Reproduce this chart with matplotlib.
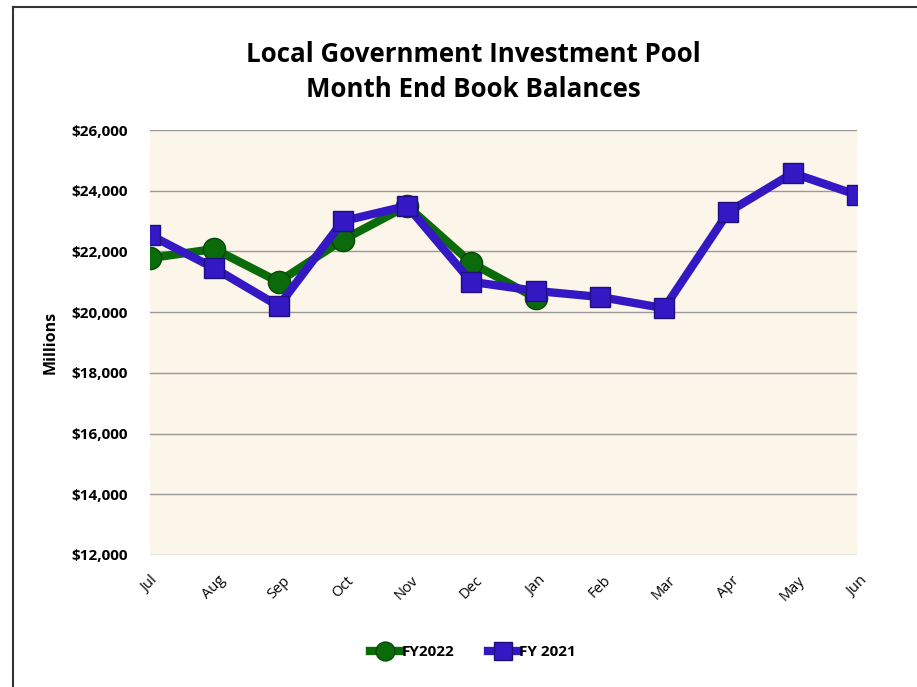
import matplotlib.pyplot as plt
from matplotlib.lines import Line2D
from matplotlib.ticker import FuncFormatter

plt.rcParams['font.family'] = ['Open Sans', 'DejaVu Sans']

months = ["Jul", "Aug", "Sep", "Oct", "Nov", "Dec", "Jan", "Feb", "Mar", "Apr", "May", "Jun"]
fy2022 = [21780, 22080, 21000, 22380, 23500, 21620, 20470]
fy2021 = [22540, 21450, 20200, 23000, 23500, 21000, 20700, 20500, 20130, 23300, 24580, 23860]

green = "#0b6b0b"
blue = "#3418c4"

fig = plt.figure(figsize=(9.17, 6.87), dpi=100)
ax = fig.add_axes([150 / 917, 1 - 555 / 687, 707 / 917, 425 / 687])
ax.set_facecolor("#fcf6ea")

# outer frame, runs off the right and bottom edges
fig.add_artist(Line2D([13 / 917, 13 / 917], [0, 1 - 7 / 687], color="#333333", lw=1.5))
fig.add_artist(Line2D([13 / 917, 1], [1 - 7 / 687, 1 - 7 / 687], color="#333333", lw=1.5))

x = list(range(len(months)))
ax.plot(x[:len(fy2022)], fy2022, color=green, lw=6, marker="o", ms=16,
        markerfacecolor=green, markeredgecolor="#064806", markeredgewidth=1,
        solid_joinstyle="miter", label="FY2022", zorder=3)
ax.plot(x, fy2021, color=blue, lw=6, marker="s", ms=15,
        markerfacecolor=blue, markeredgecolor="#1e0e80", markeredgewidth=1,
        solid_joinstyle="miter", label="FY 2021", zorder=4)

ax.set_ylim(12000, 26000)
ax.set_xlim(0, len(months) - 1)
ax.set_yticks(range(12000, 26001, 2000))
ax.yaxis.set_major_formatter(FuncFormatter(lambda v, p: f"${v:,.0f}"))
ax.set_xticks(x)
ax.set_xticklabels(months, rotation=45, ha="center", fontsize=10.5)
for lbl in ax.get_yticklabels():
    lbl.set_fontweight("bold")
    lbl.set_fontsize(11)
ax.tick_params(axis="y", length=0, pad=16)
ax.tick_params(axis="x", length=0, pad=13)
ax.grid(axis="y", color="#9a9a9a", lw=1)
ax.set_axisbelow(True)
for s in ax.spines.values():
    s.set_visible(False)

ax.set_ylabel("Millions", fontsize=11.5, fontweight="bold", labelpad=9)

fig.text(473 / 917, 1 - 72 / 687, "Local Government Investment Pool\nMonth End Book Balances",
         ha="center", va="center", fontsize=18.6, fontweight="bold", linespacing=1.35)

fig.legend(loc="center", bbox_to_anchor=(473 / 917, 1 - 652 / 687), ncol=2, frameon=False,
           prop={"weight": "bold", "size": 11}, handlelength=2.0, handletextpad=0.05,
           columnspacing=2.2, markerscale=0.85)

fig.savefig("out.png", dpi=100)
